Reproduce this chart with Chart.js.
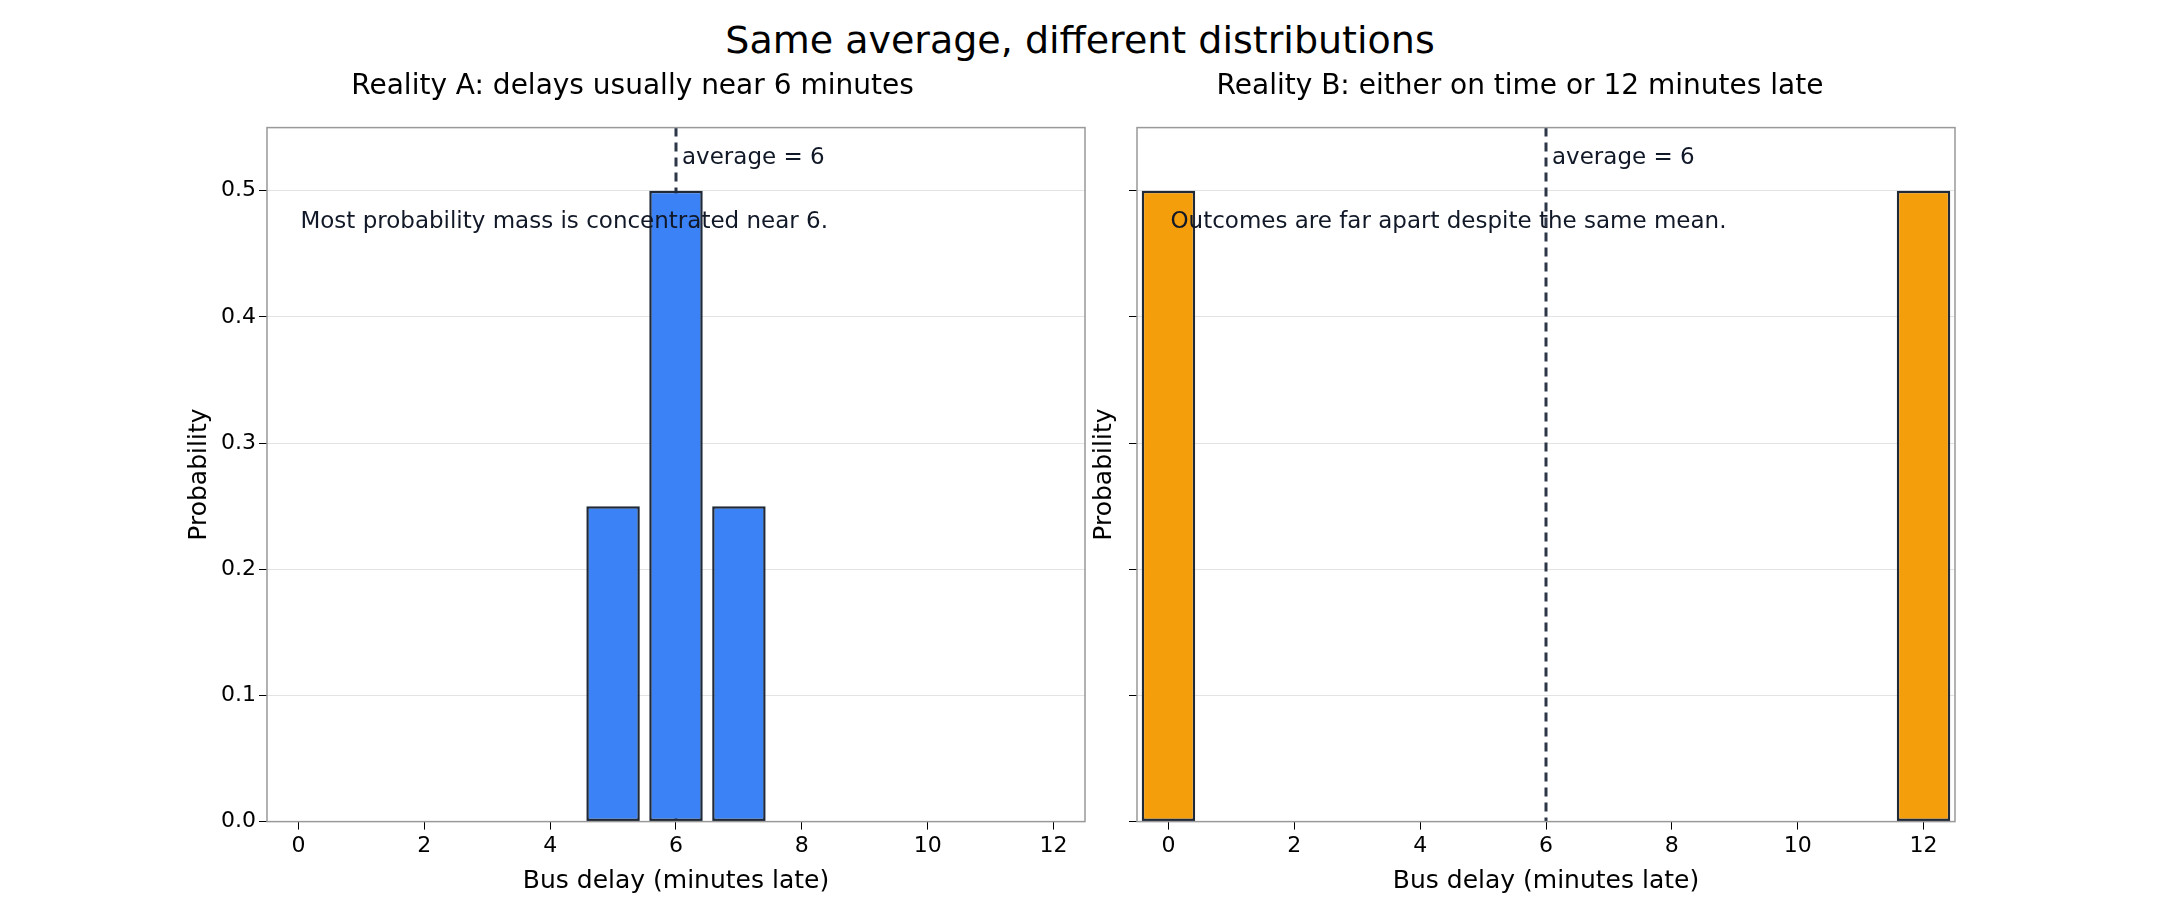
<!DOCTYPE html>
<html>
<head>
<meta charset="utf-8">
<style>
  body { margin: 0; background: #fff; font-family: "DejaVu Sans", sans-serif; }
  #title { position: absolute; top: 18px; left: 0; width: 2160px; text-align: center; font-size: 38px; color: #000; }
  canvas { position: absolute; }
</style>
</head>
<body>
<div id="title">Same average, different distributions</div>
<canvas id="chartA" style="left:180px; top:70px;"></canvas>
<canvas id="chartB" style="left:1085px; top:70px;"></canvas>

<script src="https://cdn.jsdelivr.net/npm/chart.js"></script>
<script>
const delays = [0, 1, 2, 3, 4, 5, 6, 7, 8, 9, 10, 11, 12];
const probA = [0, 0, 0, 0, 0, 0.25, 0.5, 0.25, 0, 0, 0, 0, 0];
const probB = [0.5, 0, 0, 0, 0, 0, 0, 0, 0, 0, 0, 0, 0.5];
const xTicks = [0, 2, 4, 6, 8, 10, 12];
const yTicks = [0, 0.1, 0.2, 0.3, 0.4, 0.5];
const averageDelay = 6;

Chart.defaults.font.family = '"DejaVu Sans", sans-serif';
Chart.defaults.color = '#000';

// dashed average line (under the bars), frame and the text notes
const extras = {
    id: 'extras',
    beforeDatasetsDraw(chart) {
        const { ctx, chartArea: a, scales: { x } } = chart;
        const px = x.getPixelForValue(averageDelay);
        ctx.save();
        ctx.strokeStyle = '#2d3748';
        ctx.lineWidth = 3;
        ctx.setLineDash([9, 6]);
        ctx.beginPath();
        ctx.moveTo(px, a.top);
        ctx.lineTo(px, a.bottom);
        ctx.stroke();
        ctx.restore();
    },
    afterDatasetsDraw(chart, args, opts) {
        const { ctx, chartArea: a, scales: { x, y } } = chart;
        ctx.save();
        ctx.strokeStyle = '#999';
        ctx.lineWidth = 1.5;
        ctx.strokeRect(a.left, a.top, a.right - a.left, a.bottom - a.top);

        const px = x.getPixelForValue(averageDelay);
        ctx.fillStyle = '#111827';
        ctx.font = '23px "DejaVu Sans"';
        ctx.textBaseline = 'middle';
        ctx.fillText('average = ' + averageDelay, px + 6, y.getPixelForValue(0.526));
        ctx.fillText(opts.note, x.getPixelForValue(0) + 2, y.getPixelForValue(0.475));
        ctx.restore();
    }
};

function makeChart(id, values, color, title, note, showY) {
    const canvas = document.getElementById(id);
    canvas.width = showY ? 910 : 875;
    canvas.height = 830;
    return new Chart(canvas, {
        type: 'bar',
        data: {
            labels: delays,
            datasets: [{
                data: values,
                backgroundColor: color,
                borderColor: '#1f2937',
                borderWidth: 2.5,
                borderSkipped: false,
                barPercentage: 0.85,
                categoryPercentage: 1
            }]
        },
        options: {
            responsive: false,
            animation: false,
            layout: { padding: { right: 5 } },
            plugins: {
                legend: { display: false },
                tooltip: { enabled: false },
                title: { display: true, text: title, font: { size: 28, weight: 'normal' }, padding: { top: 0, bottom: 24 } },
                extras: { note: note }
            },
            scales: {
                x: {
                    type: 'linear',
                    offset: false,
                    min: -0.5,
                    max: 12.5,
                    afterBuildTicks: s => { s.ticks = xTicks.map(v => ({ value: v })); },
                    grid: { drawOnChartArea: false, offset: false, tickColor: '#000', tickLength: 8 },
                    border: { display: false },
                    ticks: { font: { size: 22 }, maxRotation: 0 },
                    title: { display: true, text: 'Bus delay (minutes late)', font: { size: 25 } }
                },
                y: {
                    min: 0,
                    max: 0.55,
                    afterBuildTicks: s => { s.ticks = yTicks.map(v => ({ value: v })); },
                    ticks: {
                        font: { size: 22 },
                        callback: v => showY ? v.toFixed(1) : ''
                    },
                    grid: { color: '#e3e3e3', tickColor: '#000', tickLength: 8 },
                    border: { display: false },
                    title: { display: true, text: 'Probability', font: { size: 25 } }
                }
            }
        },
        plugins: [extras]
    });
}

makeChart('chartA', probA, '#3b82f6', 'Reality A: delays usually near 6 minutes',
    'Most probability mass is concentrated near 6.', true);
makeChart('chartB', probB, '#f59e0b', 'Reality B: either on time or 12 minutes late',
    'Outcomes are far apart despite the same mean.', false);
</script>
</body>
</html>
